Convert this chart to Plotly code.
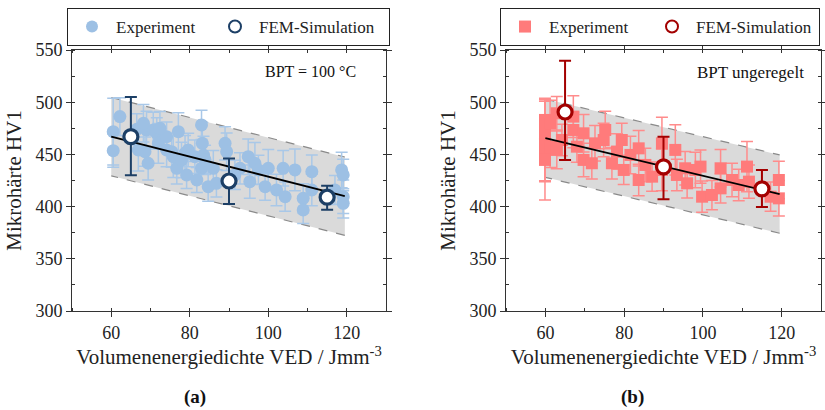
import plotly.graph_objects as go

# ---------------- data (a) BPT = 100 °C ----------------
exp_a_x = [60.5, 60.5, 62.2, 66.5, 66.9, 68.6, 69.4, 69.0, 70.7, 71.6, 72.0, 74.1, 74.1, 75.8, 76.7,
           77.1, 78.8, 79.2, 81.3, 81.8, 83.0, 83.2, 83.5, 83.0, 84.7, 86.0, 86.8, 89.0, 89.4, 91.5,
           92.8, 94.9, 95.3, 96.6, 97.5, 99.2, 100.0, 102.1, 103.8, 104.3, 106.8, 108.9, 108.9, 111.1,
           111.1, 117.0, 118.7, 119.1, 119.1, 119.1, 68.2, 72.4, 75.4, 77.9, 83.9, 79.6]
exp_a_y = [471.8, 453.6, 486.2, 474.0, 454.2, 452.6, 441.5, 473.4, 473.4, 470.2, 460.6, 467.0, 454.2,
           447.8, 436.7, 471.8, 451.0, 430.3, 447.8, 425.5, 478.2, 460.6, 449.4, 436.7, 419.1, 436.7,
           422.3, 460.6, 452.6, 430.3, 436.7, 447.8, 423.9, 441.5, 435.1, 419.1, 436.7, 415.9, 436.7,
           409.5, 435.1, 407.9, 396.8, 433.5, 415.9, 415.9, 435.1, 430.3, 409.5, 403.1, 479.8, 475.0,
           452.6, 444.7, 444.7, 454.2]
exp_a_err = [32, 16, 18, 15, 20, 14, 16, 18, 17, 15, 19, 14, 16, 20, 15, 18, 17, 13, 16, 12, 14, 20,
             18, 15, 14, 17, 13, 16, 18, 14, 15, 17, 16, 20, 14, 13, 18, 15, 17, 14, 20, 14, 13, 16,
             15, 14, 17, 15, 16, 14, 18, 16, 15, 17, 14, 16]

fem_a_x = [65, 90, 115]
fem_a_y = [467, 424.5, 409]
fem_a_err_plus = [38, 21.5, 11]
fem_a_err_minus = [37, 22, 12]

fit_a_x = [60, 119.5]
fit_a_y = [467, 410]

# ---------------- data (b) BPT ungeregelt ----------------
exp_b_x = [59.9, 59.9, 59.9, 59.9, 59.9, 61.2, 61.2, 62.9, 62.9, 64.2, 67.1, 67.1, 68.0, 69.7, 69.7,
           71.8, 72.6, 74.8, 75.2, 76.9, 78.2, 79.4, 79.9, 81.6, 83.7, 83.7, 85.4, 87.1, 89.6, 89.6,
           93.0, 93.4, 95.5, 96.0, 98.1, 99.4, 99.8, 102.3, 104.5, 104.5, 107.4, 109.1, 111.2, 111.7,
           117.2, 119.3, 119.3]
exp_b_y = [483.0, 473.4, 463.8, 454.3, 444.7, 479.8, 457.4, 489.4, 454.3, 463.8, 486.2, 473.4, 457.4,
           470.2, 444.7, 441.5, 460.6, 463.8, 473.4, 441.5, 452.7, 463.8, 435.1, 449.5, 455.8, 425.5,
           439.9, 428.7, 460.6, 435.1, 454.3, 430.3, 436.7, 422.3, 435.1, 438.3, 409.5, 411.1, 436.7,
           417.5, 425.5, 420.7, 438.3, 423.9, 409.5, 425.5, 407.9]
exp_b_err = [18, 30, 40, 48, 20, 22, 20, 16, 18, 15, 20, 17, 15, 18, 16, 15, 17, 16, 18, 15, 17, 16,
             14, 18, 17, 15, 16, 14, 25, 20, 24, 15, 16, 14, 17, 16, 15, 14, 18, 14, 16, 15, 24, 16,
             14, 18, 17]

fem_b_x = [65, 90, 115]
fem_b_y = [490.6, 438, 417]
fem_b_err_plus = [49, 29, 18]
fem_b_err_minus = [46, 31, 17.5]

fit_b_x = [60, 119.5]
fit_b_y = [465.5, 412]

band_half = 37.5

# ---------------- styles ----------------
BLUE = "#9dc0e4"
BLUE_ERR = "#a9c8e8"
NAVY = "#1c3f66"
PINK = "#ff7b7b"
PINK_ERR = "#ff8c8c"
DRED = "#a30000"
FONT = "Liberation Serif, Times New Roman, serif"

fig = go.Figure()


def add_panel(xa, ya, exp_x, exp_y, exp_err, fx, fy, fep, fem, fit_x, fit_y,
              col, col_err, dark, symbol, legend, exp_size, lw_exp, lw_fem):
    bx = [fit_x[0], fit_x[1], fit_x[1], fit_x[0], fit_x[0]]
    by = [fit_y[0] + band_half, fit_y[1] + band_half, fit_y[1] - band_half,
          fit_y[0] - band_half, fit_y[0] + band_half]
    fig.add_trace(go.Scatter(x=bx, y=by, mode="lines", fill="toself", fillcolor="#dadada",
                             line=dict(color="rgba(0,0,0,0)", width=0), showlegend=False,
                             hoverinfo="skip", xaxis=xa, yaxis=ya))
    for k in (0, 2):
        fig.add_trace(go.Scatter(x=[bx[k], bx[k + 1]], y=[by[k], by[k + 1]], mode="lines",
                                 line=dict(color="#8a8a8a", width=1.2, dash="dash"),
                                 showlegend=False, hoverinfo="skip", xaxis=xa, yaxis=ya))
    fig.add_trace(go.Scatter(x=exp_x, y=exp_y, mode="markers", name="Experiment",
                             marker=dict(symbol=symbol, size=exp_size, color=col),
                             error_y=dict(type="data", array=exp_err, color=col_err,
                                          thickness=1.5, width=6),
                             legend=legend, legendwidth=lw_exp, xaxis=xa, yaxis=ya))
    fig.add_trace(go.Scatter(x=fit_x, y=fit_y, mode="lines", line=dict(color="black", width=1.8),
                             showlegend=False, xaxis=xa, yaxis=ya))
    fig.add_trace(go.Scatter(x=fx, y=fy, mode="markers", name="FEM-Simulation",
                             marker=dict(symbol="circle", size=14, color="white",
                                         line=dict(color=dark, width=3.2)),
                             error_y=dict(type="data", symmetric=False, array=fep, arrayminus=fem,
                                          color=dark, thickness=2, width=6),
                             legend=legend, legendwidth=lw_fem, xaxis=xa, yaxis=ya))


add_panel("x", "y", exp_a_x, exp_a_y, exp_a_err, fem_a_x, fem_a_y, fem_a_err_plus, fem_a_err_minus,
          fit_a_x, fit_a_y, BLUE, BLUE_ERR, NAVY, "circle", "legend", 13, 90, 125)
add_panel("x2", "y2", exp_b_x, exp_b_y, exp_b_err, fem_b_x, fem_b_y, fem_b_err_plus, fem_b_err_minus,
          fit_b_x, fit_b_y, PINK, PINK_ERR, DRED, "square", "legend2", 12, 94, 118)

W, H = 825, 410
L, R, T, B = 72, 4, 50, 99
pw = W - L - R
ph = H - T - B

xax = dict(range=[50, 130], dtick=20, tick0=60, showgrid=False, zeroline=False,
           showline=True, linecolor="#333", linewidth=1, mirror="ticks",
           ticks="outside", ticklen=5, tickcolor="#333",
           minor=dict(dtick=10, ticks="inside", ticklen=3, tickcolor="#333"),
           tickfont=dict(family=FONT, size=18, color="#222"),
           title=dict(text="Volumenenergiedichte VED / Jmm<sup>-3</sup>",
                      font=dict(family=FONT, size=21, color="#222"), standoff=6))
yax = dict(range=[300, 550], dtick=50, showgrid=False, zeroline=False,
           showline=True, linecolor="#333", linewidth=1, mirror="ticks",
           ticks="outside", ticklen=5, tickcolor="#333",
           minor=dict(dtick=25, ticks="inside", ticklen=3, tickcolor="#333"),
           tickfont=dict(family=FONT, size=18, color="#222"),
           title=dict(text="Mikrohärte HV1", font=dict(family=FONT, size=21, color="#222"),
                      standoff=8))

leg_common = dict(orientation="h", yanchor="top", xanchor="right", bordercolor="#222",
                  borderwidth=1, font=dict(family=FONT, size=17, color="#222"),
                  itemwidth=38, tracegroupgap=0, itemsizing="constant",
                  y=1 + (T - 8) / ph)

fig.update_layout(
    width=W, height=H,
    margin=dict(l=L, r=R, t=T, b=B, autoexpand=False),
    paper_bgcolor="white", plot_bgcolor="white",
    font=dict(family=FONT, color="#222"),
    xaxis=dict(xax, domain=[0, 314 / pw]),
    yaxis=dict(yax),
    xaxis2=dict(xax, domain=[434 / pw, 1], anchor="y2"),
    yaxis2=dict(yax, anchor="x2"),
    legend=dict(leg_common, x=(390 - L) / pw),
    legend2=dict(leg_common, x=(820 - L) / pw),
    annotations=[
        dict(text="BPT = 100 °C", xref="x domain", yref="y domain", x=0.912, y=0.916,
             xanchor="right", yanchor="middle", showarrow=False,
             font=dict(family=FONT, size=16, color="#111")),
        dict(text="BPT ungeregelt", xref="x2 domain", yref="y2 domain", x=0.952, y=0.912,
             xanchor="right", yanchor="middle", showarrow=False,
             font=dict(family=FONT, size=17, color="#111")),
        dict(text="<b>(a)</b>", xref="x domain", yref="paper", x=0.392, y=-0.33,
             xanchor="center", yanchor="middle", showarrow=False,
             font=dict(family=FONT, size=19, color="#111")),
        dict(text="<b>(b)</b>", xref="x2 domain", yref="paper", x=0.403, y=-0.33,
             xanchor="center", yanchor="middle", showarrow=False,
             font=dict(family=FONT, size=19, color="#111")),
    ],
)

fig.write_html("out.html")
